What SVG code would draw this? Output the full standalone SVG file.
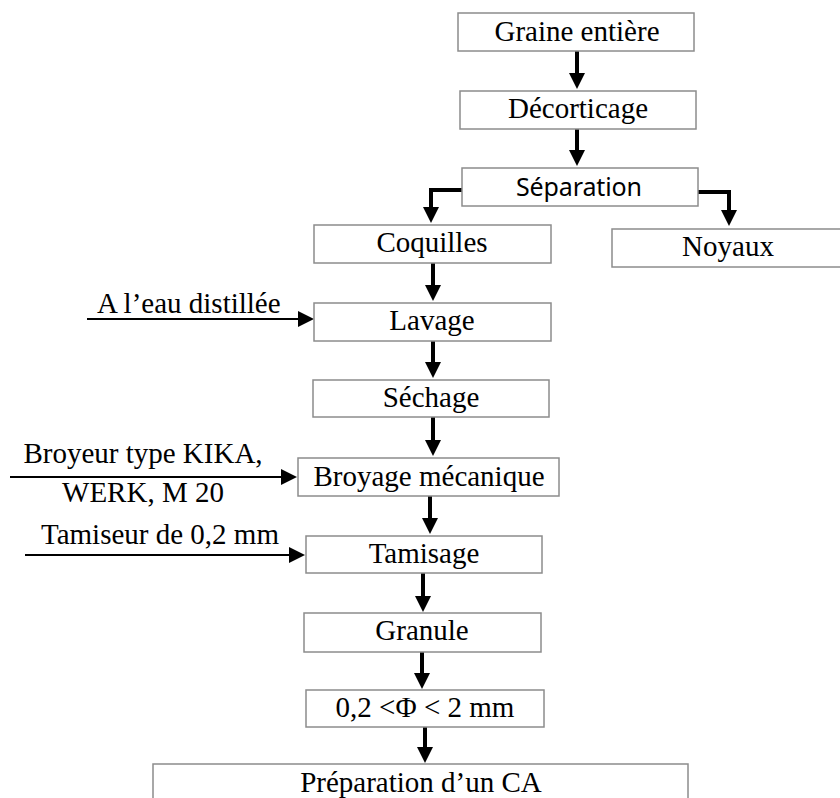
<svg xmlns="http://www.w3.org/2000/svg" width="840" height="798" viewBox="0 0 840 798">
  <style>
    .box { fill: #ffffff; stroke: #8c8c8c; stroke-width: 1.5; }
    .t { font-family: "Liberation Serif", "Times New Roman", serif; font-size: 29px; fill: #000; }
    .s { font-family: "Noto Sans", "Open Sans", sans-serif; font-size: 25px; fill: #000; }
    .flow { fill: none; stroke: #000; stroke-width: 4; }
    .feed { fill: none; stroke: #000; stroke-width: 2; }
  </style>
  <defs>
    <marker id="head" viewBox="0 0 16 16" markerWidth="16" markerHeight="16" refX="6" refY="8" orient="auto" markerUnits="userSpaceOnUse">
      <path d="M0,0 L16,8 L0,16 z" fill="#000"/>
    </marker>
  </defs>
  <rect width="840" height="798" fill="#ffffff"/>

  <g id="connectors">
    <path class="flow" d="M577,51 V79" marker-end="url(#head)"/>
    <path class="flow" d="M577,129 V156" marker-end="url(#head)"/>
    <path class="flow" d="M462,190 H431 V213" marker-end="url(#head)"/>
    <path class="flow" d="M698,192 H729 V216" marker-end="url(#head)"/>
    <path class="flow" d="M433,263 V291" marker-end="url(#head)"/>
    <path class="flow" d="M433,341 V368" marker-end="url(#head)"/>
    <path class="flow" d="M433,417 V446" marker-end="url(#head)"/>
    <path class="flow" d="M430,496 V524" marker-end="url(#head)"/>
    <path class="flow" d="M423,573 V602" marker-end="url(#head)"/>
    <path class="flow" d="M422,652 V679" marker-end="url(#head)"/>
    <path class="flow" d="M425,727 V753" marker-end="url(#head)"/>
    <path class="feed" d="M87,319 H304" marker-end="url(#head)"/>
    <path class="feed" d="M10,477 H287" marker-end="url(#head)"/>
    <path class="feed" d="M25,555 H295" marker-end="url(#head)"/>
  </g>

  <g id="graine">
    <rect class="box" x="458" y="13" width="236" height="38"/>
    <text class="t" x="577" y="41" text-anchor="middle">Graine entière</text>
  </g>
  <g id="decorticage">
    <rect class="box" x="460" y="91" width="236" height="38"/>
    <text class="t" x="578" y="118" text-anchor="middle">Décorticage</text>
  </g>
  <g id="separation">
    <rect class="box" x="462" y="168" width="236" height="38"/>
    <text class="s" x="579" y="196" text-anchor="middle" textLength="126">Séparation</text>
  </g>
  <g id="coquilles">
    <rect class="box" x="314" y="225" width="237" height="38"/>
    <text class="t" x="432" y="252" text-anchor="middle">Coquilles</text>
  </g>
  <g id="noyaux">
    <rect class="box" x="612" y="229" width="236" height="38"/>
    <text class="t" x="728" y="256" text-anchor="middle">Noyaux</text>
  </g>
  <g id="lavage">
    <rect class="box" x="314" y="303" width="237" height="38"/>
    <text class="t" x="432" y="330" text-anchor="middle">Lavage</text>
  </g>
  <g id="sechage">
    <rect class="box" x="313" y="380" width="236" height="37"/>
    <text class="t" x="431" y="407" text-anchor="middle">Séchage</text>
  </g>
  <g id="broyage">
    <rect class="box" x="298" y="458" width="261" height="38"/>
    <text class="t" x="429" y="486" text-anchor="middle">Broyage mécanique</text>
  </g>
  <g id="tamisage">
    <rect class="box" x="306" y="536" width="236" height="37"/>
    <text class="t" x="424" y="563" text-anchor="middle">Tamisage</text>
  </g>
  <g id="granule">
    <rect class="box" x="304" y="613" width="237" height="39"/>
    <text class="t" x="422" y="640" text-anchor="middle">Granule</text>
  </g>
  <g id="taille">
    <rect class="box" x="306" y="690" width="238" height="37"/>
    <text class="t" x="425" y="717" text-anchor="middle">0,2 &lt;Φ &lt; 2 mm</text>
  </g>
  <g id="preparation">
    <rect class="box" x="153" y="764" width="535" height="50"/>
    <text class="t" x="421" y="792" text-anchor="middle">Préparation d’un CA</text>
  </g>

  <g id="inputs">
    <text class="t" x="97" y="313">A l’eau distillée</text>
    <text class="t" x="143" y="463" text-anchor="middle">Broyeur type KIKA,</text>
    <text class="t" x="143" y="502" text-anchor="middle">WERK, M 20</text>
    <text class="t" x="160" y="544" text-anchor="middle">Tamiseur de 0,2 mm</text>
  </g>
</svg>
